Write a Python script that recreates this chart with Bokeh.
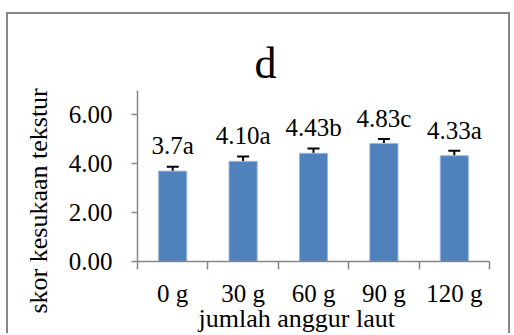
from bokeh.plotting import figure
from bokeh.models import (ColumnDataSource, Range1d, FixedTicker, NumeralTickFormatter,
                          Whisker, TeeHead, Title)
from bokeh.core.properties import value
from bokeh.embed import file_html
from bokeh.resources import INLINE

categories = ["0 g", "30 g", "60 g", "90 g", "120 g"]
scores = [3.70, 4.10, 4.43, 4.83, 4.33]
errors = [0.18, 0.20, 0.20, 0.18, 0.20]
bar_labels = ["3.7a", "4.10a", "4.43b", "4.83c", "4.33a"]
y_ticks = [0, 2, 4, 6]
title_text = "d"
x_title = "jumlah anggur laut"
y_title = "skor kesukaan tekstur"

FONT = "Liberation Serif"
GRAY = "#868686"

idx = list(range(len(categories)))
src = ColumnDataSource(dict(
    x=idx, top=scores, label=bar_labels,
    upper=[s + e for s, e in zip(scores, errors)],
    lower=[s - e for s, e in zip(scores, errors)],
))

p = figure(width=504, height=321, output_backend="svg", toolbar_location=None,
           x_range=Range1d(-0.5, len(categories) - 0.5), y_range=Range1d(0, 7),
           min_border_left=129, min_border_right=23, min_border_top=76, min_border_bottom=74)
p.styles = {"margin-left": "6px", "margin-top": "12px",
            "border-left": "2px solid #868686", "border-top": "2px solid #868686",
            "border-right": "2px solid #868686"}
p.outline_line_color = None
p.xgrid.visible = False
p.ygrid.visible = False

p.vbar(x="x", top="top", width=0.4, source=src, fill_color="#4F81BD",
       line_color="#9fb8dc", line_width=1)

w = Whisker(base="x", upper="upper", lower="lower", source=src,
            line_color="black", line_width=2,
            upper_head=TeeHead(size=12, line_width=2, line_color="black"),
            lower_head=TeeHead(size=12, line_width=2, line_color="black"))
p.add_layout(w)

p.text(x="x", y="top", text="label", source=src, y_offset=-12,
       text_align="center", text_baseline="bottom",
       text_font=value(FONT), text_font_size="25px", text_color="black")

# x axis
xa = p.xaxis[0]
xa.ticker = FixedTicker(ticks=idx, minor_ticks=[i - 0.5 for i in range(len(categories) + 1)])
xa.major_label_overrides = {i: c for i, c in zip(idx, categories)}
xa.major_tick_line_color = None
xa.major_tick_out = 0
xa.major_tick_in = 0
xa.minor_tick_out = 8
xa.minor_tick_in = 0
xa.minor_tick_line_color = GRAY
xa.minor_tick_line_width = 1.5
xa.axis_line_color = GRAY
xa.axis_line_width = 1.5
xa.major_label_standoff = 10
xa.major_label_text_font = FONT
xa.major_label_text_font_size = "25px"
xa.major_label_text_color = "black"

ya = p.yaxis[0]
ya.ticker = FixedTicker(ticks=y_ticks)
ya.formatter = NumeralTickFormatter(format="0.00")
ya.minor_tick_line_color = None
ya.major_tick_out = 6
ya.major_tick_in = 0
ya.major_tick_line_color = GRAY
ya.major_tick_line_width = 1.5
ya.axis_line_color = GRAY
ya.axis_line_width = 1.5
ya.major_label_standoff = 19
ya.major_label_text_font = FONT
ya.major_label_text_font_size = "25px"
ya.major_label_text_color = "black"

# chart title
p.title.text = title_text
p.title.align = "left"
p.title.offset = 117
p.title.standoff = 5
p.title.text_font = FONT
p.title.text_font_size = "44px"
p.title.text_font_style = "normal"
p.title.text_color = "black"

# axis titles as side-panel titles
xt = Title(text=x_title, align="left", offset=61, vertical_align="top", standoff=-12,
           text_font=FONT, text_font_size="26px", text_font_style="normal", text_color="black")
p.add_layout(xt, "below")
yt = Title(text=y_title, align="left", offset=-52, vertical_align="bottom", standoff=25,
           text_font=FONT, text_font_size="26px", text_font_style="normal", text_color="black")
p.add_layout(yt, "left")

open("out.html", "w").write(file_html(p, INLINE))
